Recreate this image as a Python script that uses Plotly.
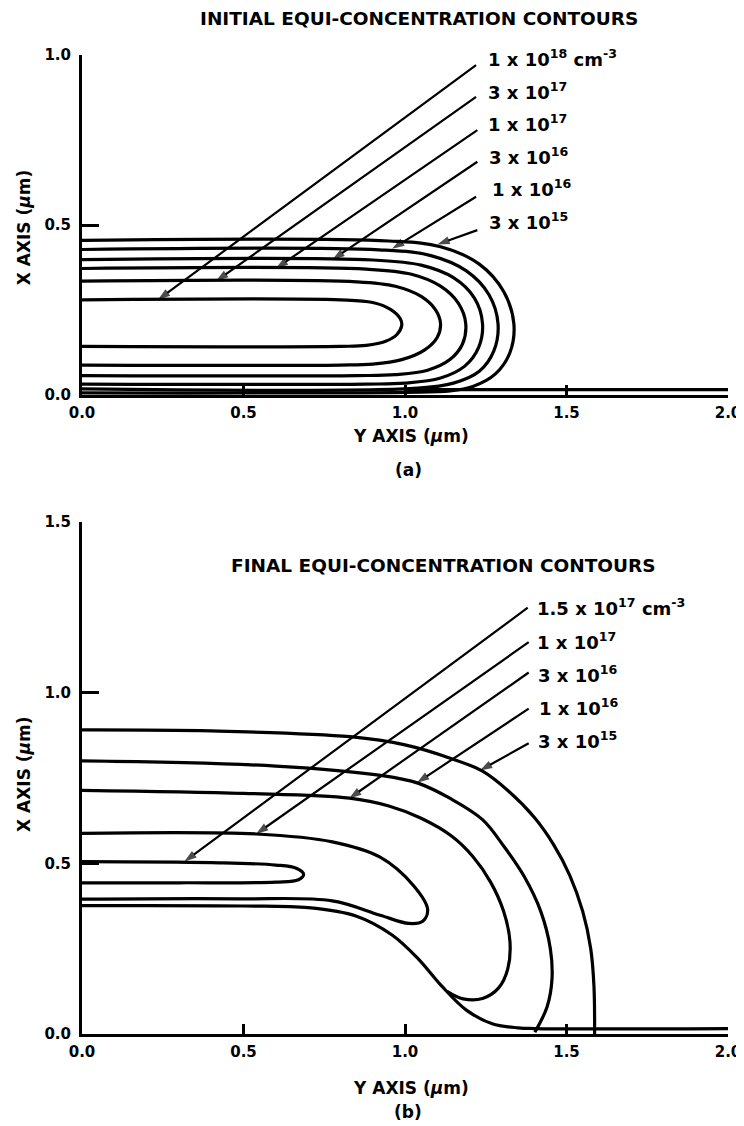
import plotly.graph_objects as go

FONT = "DejaVu Sans"

# ---------------- Panel (a): initial equi-concentration contours ----------------
a_title = "INITIAL EQUI-CONCENTRATION CONTOURS"
a_labels = ["1 x 10<sup>18</sup> cm<sup>-3</sup>", "3 x 10<sup>17</sup>", "1 x 10<sup>17</sup>",
            "3 x 10<sup>16</sup>", "1 x 10<sup>16</sup>", "3 x 10<sup>15</sup>"]
a_label_x = [1.252, 1.252, 1.252, 1.255, 1.262, 1.255]
a_label_y = [0.992, 0.895, 0.800, 0.703, 0.610, 0.513]

# contour polylines (Y axis um, X axis um)
a_c18_x = [0, 0.80, 0.90, 0.955, 0.985, 0.99, 0.975, 0.94, 0.88, 0.80, 0]
a_c18_y = [0.280, 0.280, 0.272, 0.252, 0.225, 0.205, 0.178, 0.158, 0.146, 0.143, 0.143]
a_c3e17_x = [0, 0.85, 0.97, 1.05, 1.095, 1.11, 1.10, 1.06, 0.99, 0.90, 0.80, 0]
a_c3e17_y = [0.335, 0.333, 0.320, 0.290, 0.250, 0.210, 0.170, 0.132, 0.104, 0.091, 0.088, 0.088]
a_c1e17_x = [0, 0.88, 1.02, 1.11, 1.165, 1.188, 1.178, 1.14, 1.07, 0.97, 0.85, 0]
a_c1e17_y = [0.372, 0.370, 0.355, 0.320, 0.270, 0.210, 0.150, 0.105, 0.073, 0.060, 0.057, 0.057]
a_c3e16_x = [0, 0.90, 1.05, 1.15, 1.215, 1.24, 1.228, 1.185, 1.11, 1.00, 0.88, 0]
a_c3e16_y = [0.398, 0.397, 0.382, 0.345, 0.285, 0.210, 0.140, 0.085, 0.050, 0.035, 0.032, 0.032]
a_c1e16_x = [0, 0.92, 1.08, 1.19, 1.26, 1.288, 1.275, 1.23, 1.15, 1.04, 0]
a_c1e16_y = [0.428, 0.427, 0.410, 0.365, 0.295, 0.210, 0.130, 0.070, 0.035, 0.020, 0.018]
a_c3e15_x = [0, 0.95, 1.11, 1.23, 1.305, 1.337, 1.325, 1.28, 1.21, 1.14, 1.00, 0]
a_c3e15_y = [0.455, 0.453, 0.436, 0.385, 0.305, 0.210, 0.125, 0.062, 0.025, 0.012, 0.008, 0.006]
a_base_x = [1.0, 2.0]
a_base_y = [0.016, 0.016]

# leader lines: tail (near label) -> head (on contour)
a_lead_x0 = [1.220, 1.220, 1.224, 1.224, 1.220, 1.224]
a_lead_y0 = [0.970, 0.877, 0.779, 0.686, 0.583, 0.485]
a_lead_x1 = [0.235, 0.415, 0.600, 0.775, 0.960, 1.100]
a_lead_y1 = [0.280, 0.335, 0.372, 0.398, 0.430, 0.443]

# ---------------- Panel (b): final equi-concentration contours ----------------
b_title = "FINAL EQUI-CONCENTRATION CONTOURS"
b_labels = ["1.5 x 10<sup>17</sup> cm<sup>-3</sup>", "1 x 10<sup>17</sup>", "3 x 10<sup>16</sup>",
            "1 x 10<sup>16</sup>", "3 x 10<sup>15</sup>"]
b_label_x = [1.402, 1.402, 1.405, 1.408, 1.405]
b_label_y = [1.252, 1.152, 1.055, 0.957, 0.860]

b_c15e17_x = [0, 0.40, 0.60, 0.665, 0.686, 0.670, 0.60, 0.30, 0]
b_c15e17_y = [0.505, 0.502, 0.495, 0.485, 0.468, 0.452, 0.445, 0.443, 0.443]
b_c1e17_x = [0, 0.539, 0.775, 0.923, 1.026, 1.070, 1.055, 1.011, 0.923, 0.775, 0.48, 0]
b_c1e17_y = [0.588, 0.586, 0.563, 0.518, 0.435, 0.365, 0.330, 0.324, 0.348, 0.390, 0.396, 0.395]
b_c3e16_x = [0, 0.50, 0.828, 0.95, 1.05, 1.144, 1.21, 1.265, 1.305, 1.325, 1.318, 1.29, 1.24, 1.18, 1.13]
b_c3e16_y = [0.714, 0.705, 0.691, 0.668, 0.632, 0.580, 0.520, 0.445, 0.360, 0.270, 0.190, 0.135, 0.104, 0.103, 0.125]
b_c1e16_x = [0, 0.60, 0.930, 1.040, 1.140, 1.240, 1.306, 1.370, 1.420, 1.450, 1.455, 1.440, 1.402]
b_c1e16_y = [0.800, 0.785, 0.757, 0.735, 0.690, 0.628, 0.550, 0.460, 0.360, 0.250, 0.160, 0.080, 0.005]
b_c3e15_x = [0, 0.40, 0.830, 1.000, 1.140, 1.240, 1.320, 1.400, 1.460, 1.510, 1.550, 1.575, 1.585, 1.587]
b_c3e15_y = [0.891, 0.888, 0.871, 0.847, 0.808, 0.770, 0.712, 0.635, 0.555, 0.465, 0.360, 0.250, 0.140, 0.0]
b_low_x = [0, 0.50, 0.70, 0.85, 0.96, 1.041, 1.114, 1.19, 1.27, 1.35, 1.40, 2.0]
b_low_y = [0.376, 0.375, 0.370, 0.345, 0.290, 0.220, 0.140, 0.070, 0.030, 0.018, 0.016, 0.016]

b_lead_x0 = [1.380, 1.383, 1.383, 1.383, 1.383]
b_lead_y0 = [1.249, 1.148, 1.059, 0.953, 0.852]
b_lead_x1 = [0.317, 0.539, 0.827, 1.037, 1.232]
b_lead_y1 = [0.505, 0.586, 0.690, 0.736, 0.772]

# axis ticks
x_ticks = [0.0, 0.5, 1.0, 1.5, 2.0]
x_ticktext = ["<b>0.0</b>", "<b>0.5</b>", "<b>1.0</b>", "<b>1.5</b>", "<b>2.0</b>"]
a_yticks = [0.0, 0.5, 1.0]
a_yticktext = ["<b>0.0</b>", "<b>0.5</b>", "<b>1.0</b>"]
b_yticks = [0.0, 0.5, 1.0, 1.5]
b_yticktext = ["<b>0.0</b>", "<b>0.5</b>", "<b>1.0</b>", "<b>1.5</b>"]

fig = go.Figure()

def contour(x, y, xa, ya, w=3.2):
    fig.add_trace(go.Scatter(x=x, y=y, mode="lines", xaxis=xa, yaxis=ya,
                             line=dict(color="black", width=w, shape="spline", smoothing=1.0),
                             hoverinfo="skip", showlegend=False))

def leader(x0, y0, x1, y1, xa, ya):
    fig.add_trace(go.Scatter(x=[x0, x1], y=[y0, y1], mode="lines+markers", xaxis=xa, yaxis=ya,
                             line=dict(color="black", width=2.2),
                             marker=dict(symbol=["circle", "arrow"], size=[0, 13], color="black",
                                         angleref="previous", line=dict(width=0)),
                             hoverinfo="skip", showlegend=False))

for cx, cy in [(a_c18_x, a_c18_y), (a_c3e17_x, a_c3e17_y), (a_c1e17_x, a_c1e17_y),
               (a_c3e16_x, a_c3e16_y), (a_c1e16_x, a_c1e16_y), (a_c3e15_x, a_c3e15_y),
               (a_base_x, a_base_y)]:
    contour(cx, cy, "x", "y")
for i in range(len(a_lead_x0)):
    leader(a_lead_x0[i], a_lead_y0[i], a_lead_x1[i], a_lead_y1[i], "x", "y")

for cx, cy in [(b_c15e17_x, b_c15e17_y), (b_c1e17_x, b_c1e17_y), (b_c3e16_x, b_c3e16_y),
               (b_c1e16_x, b_c1e16_y), (b_c3e15_x, b_c3e15_y), (b_low_x, b_low_y)]:
    contour(cx, cy, "x2", "y2")
for i in range(len(b_lead_x0)):
    leader(b_lead_x0[i], b_lead_y0[i], b_lead_x1[i], b_lead_y1[i], "x2", "y2")

label_font = dict(family=FONT, size=18, color="black")
title_font = dict(family=FONT, size=18.5, color="black")
axis_title_font = dict(family=FONT, size=17, color="black")

ann = []
for t, x, y in zip(a_labels, a_label_x, a_label_y):
    ann.append(dict(text="<b>" + t + "</b>", x=x, y=y, xref="x", yref="y", xanchor="left",
                    yanchor="middle", showarrow=False, font=label_font))
for t, x, y in zip(b_labels, b_label_x, b_label_y):
    ann.append(dict(text="<b>" + t + "</b>", x=x, y=y, xref="x2", yref="y2", xanchor="left",
                    yanchor="middle", showarrow=False, font=label_font))

ann.append(dict(text="<b>" + a_title + "</b>", x=0.521, y=1.0368, xref="paper", yref="paper",
                xanchor="center", yanchor="middle", showarrow=False, font=title_font))
ann.append(dict(text="<b>" + b_title + "</b>", x=1.12, y=1.373, xref="x2", yref="y2",
                xanchor="center", yanchor="middle", showarrow=False, font=title_font))

def ptext(t, x, y, angle=0):
    return dict(text="<b>" + t + "</b>", x=x, y=y, xref="paper", yref="paper", xanchor="center",
                yanchor="middle", showarrow=False, textangle=angle, font=axis_title_font)

ann += [
    ptext("Y AXIS (<i>μ</i>m)", 0.509, 0.6108),
    ptext("(a)", 0.505, 0.576),
    ptext("Y AXIS (<i>μ</i>m)", 0.509, -0.0552),
    ptext("(b)", 0.505, -0.0797),
    ptext("X AXIS (<i>μ</i>m)", -0.0898, 0.824, -90),
    ptext("X AXIS (<i>μ</i>m)", -0.0898, 0.2656, -90),
]

tickfont = dict(family=FONT, size=15, color="black")
xcommon = dict(range=[0, 2.0], tickvals=x_ticks, ticktext=x_ticktext, ticks="inside", ticklen=10,
               tickwidth=2.5, tickcolor="black", showline=True, linecolor="black", linewidth=3,
               showgrid=False, zeroline=False, tickfont=tickfont, ticklabelstandoff=2)
ycommon = dict(ticks="inside", ticklen=17, tickwidth=2.5, tickcolor="black", showline=True,
               linecolor="black", linewidth=3, showgrid=False, zeroline=False, tickfont=tickfont,
               ticklabelstandoff=5)

# page body keeps its default 8px margin, so margins are shifted to keep the plot areas in place
fig.update_layout(
    width=744, height=1126,
    margin=dict(l=74, r=24, t=47, b=100),
    paper_bgcolor="white", plot_bgcolor="white",
    showlegend=False,
    xaxis=dict(domain=[0, 1], anchor="y", **xcommon),
    yaxis=dict(domain=[0.6527, 1.0], anchor="x", range=[0, 1.0], tickvals=a_yticks,
               ticktext=a_yticktext, **ycommon),
    xaxis2=dict(domain=[0, 1], anchor="y2", **xcommon),
    yaxis2=dict(domain=[0, 0.523], anchor="x2", range=[0, 1.5], tickvals=b_yticks,
                ticktext=b_yticktext, **ycommon),
    annotations=ann,
)

# hide scrollbars only (no size changes)
fig.write_html("out.html", config={"displayModeBar": False},
               post_script="document.documentElement.style.overflow='hidden';"
                           "document.body.style.overflow='hidden';")
